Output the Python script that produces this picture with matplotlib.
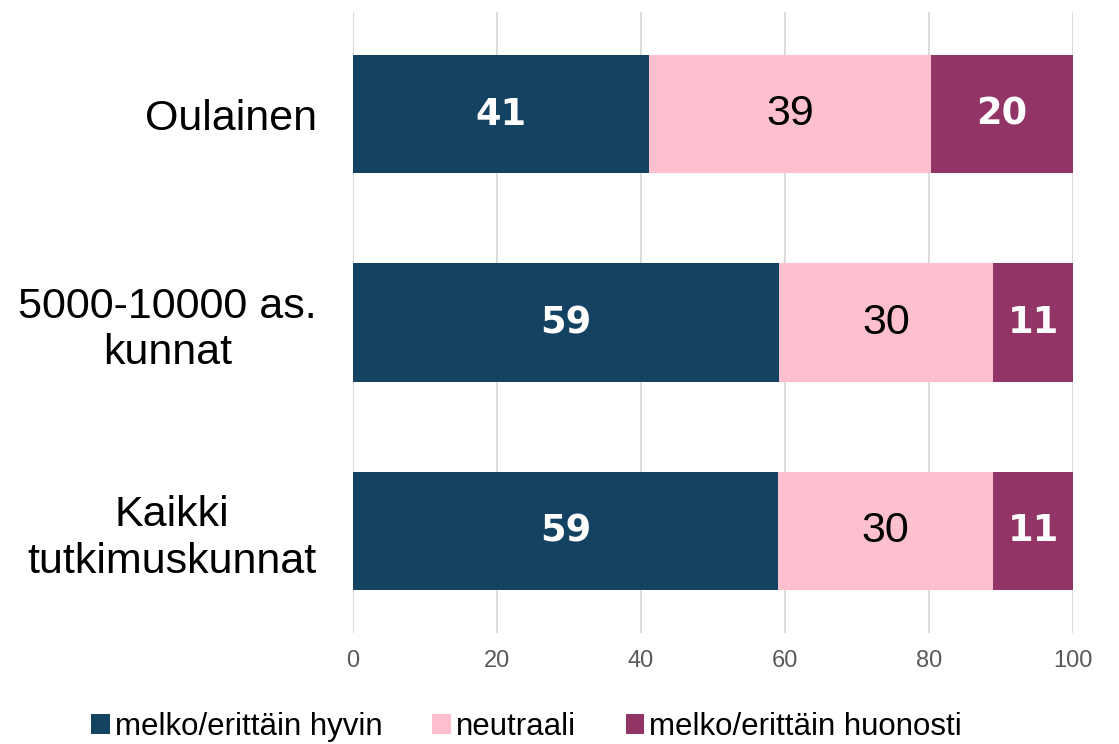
import matplotlib
matplotlib.use('Agg')
import matplotlib.pyplot as plt
import numpy as np

categories = ['Oulainen', '5000-10000 as.\nkunnat', 'Kaikki\ntutkimuskunnat']
hyvin = [41.1, 59.2, 59.0]
neutraali = [39.2, 29.7, 29.9]
huonosti = [19.7, 11.1, 11.1]
series_names = ['melko/erittäin hyvin', 'neutraali', 'melko/erittäin huonosti']
colors = ['#134262', '#FEC0CE', '#933466']
label_colors = ['white', 'black', 'white']
label_bold = [True, False, True]
ticks = [0, 20, 40, 60, 80, 100]

fig = plt.figure(figsize=(11.19, 7.44), dpi=100)
ax = fig.add_axes([0.3155, 0.149, 0.6434, 0.835])

y = np.arange(len(categories))
left = np.zeros(len(categories))
for vals, name, c, lc, bold in zip([hyvin, neutraali, huonosti], series_names, colors, label_colors, label_bold):
    bars = ax.barh(y, vals, left=left, height=0.57, color=c, label=name, zorder=3)
    for b, v in zip(bars, vals):
        if bold:
            kw = dict(family='DejaVu Sans', fontweight='bold', fontsize=26.5)
        else:
            kw = dict(family=['Liberation Sans', 'DejaVu Sans'], fontsize=31)
        ax.text(b.get_x() + b.get_width() / 2, b.get_y() + b.get_height() / 2, f'{round(v):d}',
                ha='center', va='center', color=lc, zorder=4, **kw)
    left += np.array(vals)

ax.set_xlim(0, 100)
ax.set_ylim(2.49, -0.49)
ax.set_xticks(ticks)
ax.set_xticklabels([str(t) for t in ticks], family=['Liberation Sans', 'DejaVu Sans'], fontsize=17, color='#595959')
ax.set_yticks(y)
ax.set_yticklabels(categories, family=['Liberation Sans', 'DejaVu Sans'], fontsize=31, ha='right', multialignment='center')
ax.tick_params(axis='y', length=0, pad=26)
ax.tick_params(axis='x', length=0, pad=12)
ax.grid(axis='x', color='#D9D9D9', linewidth=1.3, zorder=0)
for s in ax.spines.values():
    s.set_visible(False)

fig.legend(loc='center', bbox_to_anchor=(0.4705, 0.023), ncol=3, frameon=False,
           prop={'family': ['Liberation Sans', 'DejaVu Sans'], 'size': 22.5},
           handlelength=0.6, handleheight=0.6, handletextpad=0.15, columnspacing=1.6, borderpad=0)

fig.savefig('out.png', dpi=100)
